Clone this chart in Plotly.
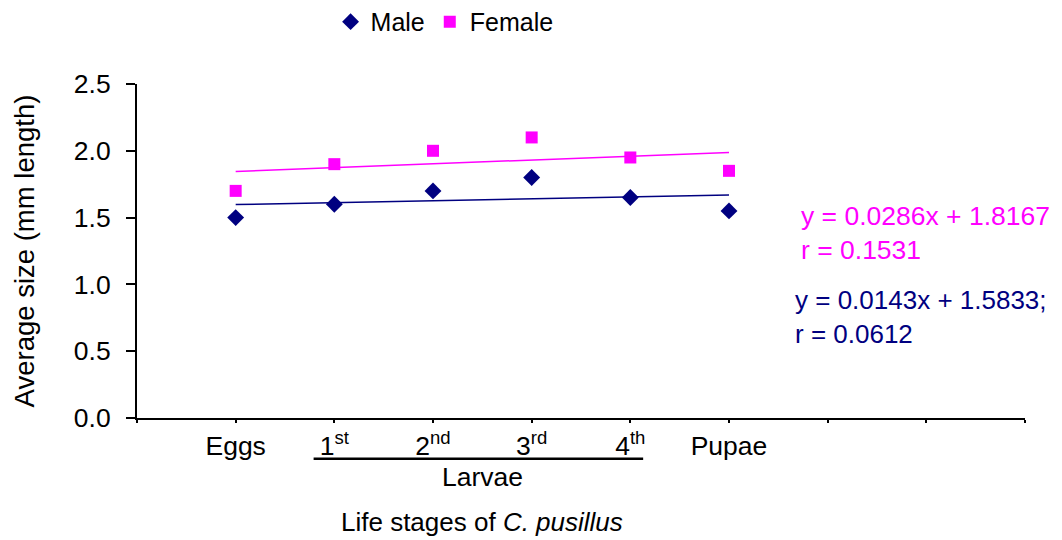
import numpy as np
import plotly.graph_objects as go

stages = ["Eggs", "1<sup>st</sup>", "2<sup>nd</sup>", "3<sup>rd</sup>", "4<sup>th</sup>", "Pupae"]
stage_pos = [1, 2, 3, 4, 5, 6]
male = [1.50, 1.60, 1.70, 1.80, 1.65, 1.55]
female = [1.70, 1.90, 2.00, 2.10, 1.95, 1.85]
male_eq = "y = 0.0143x + 1.5833;<br>r = 0.0612"
female_eq = "y = 0.0286x + 1.8167<br>r = 0.1531"

MALE_C = "#000080"
FEM_C = "#FF00FF"
FONT = "Liberation Sans, Arial, sans-serif"

x = np.array(stage_pos, dtype=float)
mfit = np.polyfit(x, male, 1)
ffit = np.polyfit(x, female, 1)
xt = np.array([x.min(), x.max()])

fig = go.Figure()
fig.add_trace(go.Scatter(x=xt, y=np.polyval(ffit, xt), mode="lines",
                         line=dict(color=FEM_C, width=1.5), showlegend=False, hoverinfo="skip"))
fig.add_trace(go.Scatter(x=xt, y=np.polyval(mfit, xt), mode="lines",
                         line=dict(color=MALE_C, width=1.5), showlegend=False, hoverinfo="skip"))
fig.add_trace(go.Scatter(x=stage_pos, y=male, mode="markers", name="Male",
                         marker=dict(symbol="diamond", size=13, color=MALE_C)))
fig.add_trace(go.Scatter(x=stage_pos, y=female, mode="markers", name="Female",
                         marker=dict(symbol="square", size=12, color=FEM_C)))

fig.update_layout(
    width=1062, height=540,
    margin=dict(l=137, r=37, t=84, b=122, autoexpand=False),
    plot_bgcolor="white", paper_bgcolor="white",
    font=dict(family=FONT, size=26.5, color="black"),
    legend=dict(orientation="h", x=0.218, xanchor="left", y=1.186, yanchor="middle",
                font=dict(size=25), itemwidth=30, tracegroupgap=0),
    xaxis=dict(range=[0, 9], tickvals=stage_pos, ticktext=stages, ticks="outside",
               ticklen=3, tickwidth=1.5, tickcolor="black", showline=True, linecolor="black",
               linewidth=2, showgrid=False, zeroline=False, ticklabelstandoff=0,
               tickfont=dict(size=26.5),
               minor=dict(tick0=0, dtick=1, ticks="outside", ticklen=3, tickwidth=1.5,
                          tickcolor="black", showgrid=False)),
    yaxis=dict(range=[0, 2.5], dtick=0.5, tickformat=".1f", ticks="outside", ticklen=9,
               tickwidth=1.5, tickcolor="black", showline=True, linecolor="black", linewidth=2,
               showgrid=False, zeroline=False, ticklabelstandoff=10,
               title=dict(text="Average size (mm length)", font=dict(size=27.5), standoff=31),
               tickfont=dict(size=26.5)),
)

# Larvae bracket line and labels
fig.add_shape(type="line", xref="x", yref="paper", x0=1.79, x1=5.13, y0=-0.122, y1=-0.122,
              line=dict(color="black", width=2.5))
fig.add_annotation(x=3.5, xref="x", y=-0.177, yref="paper", text="Larvae", showarrow=False,
                   font=dict(size=26.5), xanchor="center", yanchor="middle")
fig.add_annotation(x=3.5, xref="x", y=-0.311, yref="paper",
                   text="Life stages of <i>C. pusillus</i>", showarrow=False,
                   font=dict(size=26), xanchor="center", yanchor="middle")

fig.add_annotation(x=0.746, xref="paper", y=0.555, yref="paper", text=female_eq, showarrow=False,
                   align="left", xanchor="left", yanchor="middle", font=dict(size=26.5, color=FEM_C))
fig.add_annotation(x=0.739, xref="paper", y=0.301, yref="paper", text=male_eq, showarrow=False,
                   align="left", xanchor="left", yanchor="middle", font=dict(size=26, color=MALE_C))

fig.write_html("out.html", post_script="document.body.style.margin='0';",
               config={"displayModeBar": False})
